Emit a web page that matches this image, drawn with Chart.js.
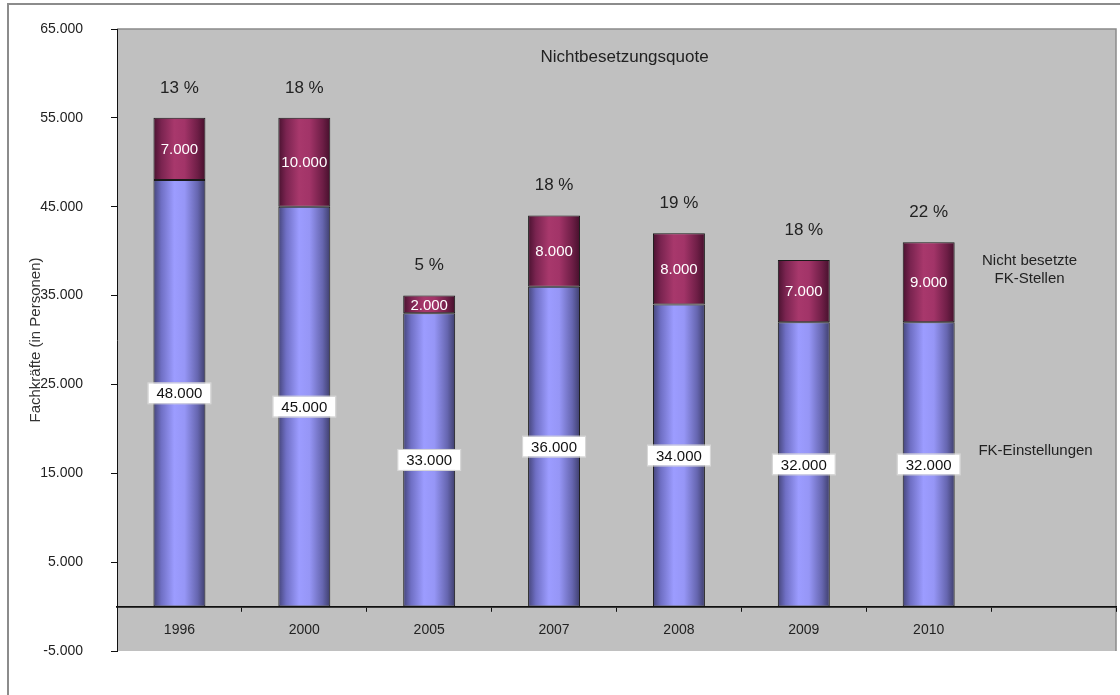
<!DOCTYPE html>
<html>
<head>
<meta charset="utf-8">
<script src="https://cdn.jsdelivr.net/npm/chart.js@4/dist/chart.umd.min.js"></script>
<style>
  html, body { margin: 0; padding: 0; background: #fff; }
  #wrap { width: 1120px; height: 695px; }
</style>
</head>
<body>
<div id="wrap"><canvas id="chart" width="1120" height="695"></canvas></div>
<script>
// data
const years = ['1996', '2000', '2005', '2007', '2008', '2009', '2010', ''];
const einstellungen = [48000, 45000, 33000, 36000, 34000, 32000, 32000];   // FK-Einstellungen
const offeneStellen = [7000, 10000, 2000, 8000, 8000, 7000, 9000];         // Nicht besetzte FK-Stellen
const quote = [13, 18, 5, 18, 19, 18, 22];                                 // Nichtbesetzungsquote in %
const yMin = -5000, yMax = 65000, yStep = 10000;

const FONT = "'Liberation Sans', Arial, sans-serif";
const BAR_PCT = 0.416;

// 48000 -> "48.000"
function fmt(v) {
  const s = Math.abs(v).toString().replace(/\B(?=(\d{3})+(?!\d))/g, '.');
  return (v < 0 ? '-' : '') + s;
}

// cylinder look: horizontal gradient per bar
function barFill(stops) {
  return (c) => {
    const chart = c.chart;
    if (!chart.chartArea || c.type !== 'data') return stops[2][1];
    const xs = chart.scales.x;
    const cx = xs.getPixelForValue(c.dataIndex);
    const hw = xs.width / years.length * BAR_PCT / 2;
    const g = chart.ctx.createLinearGradient(cx - hw, 0, cx + hw, 0);
    stops.forEach(s => g.addColorStop(s[0], s[1]));
    return g;
  };
}

const blueStops = [[0, '#45457a'], [0.15, '#6f6fc4'], [0.4, '#9c9cff'], [0.6, '#9696f6'], [0.85, '#6666b0'], [1, '#3e3e6c']];
const redStops = [[0, '#4a1230'], [0.15, '#7a2450'], [0.4, '#a8386c'], [0.6, '#a23468'], [0.85, '#6e1e46'], [1, '#45102c']];

// page frame + grey plot area
const backdrop = {
  id: 'backdrop',
  beforeDraw(chart) {
    const { ctx, chartArea: a, width, height } = chart;
    ctx.save();
    ctx.fillStyle = '#fff';
    ctx.fillRect(0, 0, width, height);
    ctx.strokeStyle = '#8c8c8c';
    ctx.lineWidth = 2;
    ctx.beginPath();
    ctx.moveTo(8, height);
    ctx.lineTo(8, 4);
    ctx.lineTo(width, 4);
    ctx.stroke();
    ctx.fillStyle = '#c0c0c0';
    ctx.fillRect(a.left, a.top, a.right - a.left, a.bottom - a.top);
    ctx.strokeStyle = '#8a8a8a';
    ctx.lineWidth = 1.5;
    ctx.beginPath();
    ctx.moveTo(a.left, a.top);
    ctx.lineTo(a.right, a.top);
    ctx.lineTo(a.right, a.bottom);
    ctx.stroke();
    ctx.restore();
  }
};

// value labels, percentages, title and the right-hand captions
const labels = {
  id: 'labels',
  afterDatasetsDraw(chart) {
    const { ctx, chartArea: a } = chart;
    const xs = chart.scales.x;
    const m0 = chart.getDatasetMeta(0);
    const m1 = chart.getDatasetMeta(1);
    ctx.save();
    ctx.textAlign = 'center';
    ctx.textBaseline = 'middle';

    m0.data.forEach((bar, i) => {
      const cy = (bar.y + bar.base) / 2;
      ctx.fillStyle = '#fff';
      ctx.fillRect(bar.x - 31, cy - 10, 62, 20);
      ctx.strokeStyle = '#d8d8d8';
      ctx.lineWidth = 1;
      ctx.strokeRect(bar.x - 31.5, cy - 10.5, 63, 21);
      ctx.fillStyle = '#111';
      ctx.font = '15px ' + FONT;
      ctx.fillText(fmt(einstellungen[i]), bar.x, cy + 1);
    });

    m1.data.forEach((bar, i) => {
      const cy = (bar.y + bar.base) / 2;
      ctx.fillStyle = '#fff';
      ctx.font = '15px ' + FONT;
      ctx.fillText(fmt(offeneStellen[i]), bar.x, cy + 1);
      ctx.fillStyle = '#222';
      ctx.font = '17px ' + FONT;
      ctx.fillText(quote[i] + ' %', bar.x, bar.y - 30);
    });

    ctx.fillStyle = '#222';
    ctx.font = '17px ' + FONT;
    ctx.fillText('Nichtbesetzungsquote', (a.left + a.right) / 2 + 8, a.top + 28);

    const last = m0.data.length - 1;
    const lx = xs.getPixelForValue(years.length - 1) - 18;
    const r = m1.data[last], b = m0.data[last];
    ctx.font = '15px ' + FONT;
    const ry = (r.y + r.base) / 2 - 12;
    ctx.fillText('Nicht besetzte', lx - 6, ry - 9);
    ctx.fillText('FK-Stellen', lx - 6, ry + 9);
    ctx.fillText('FK-Einstellungen', lx, (b.y + b.base) / 2 - 14);
    ctx.restore();
  }
};

new Chart(document.getElementById('chart'), {
  type: 'bar',
  data: {
    labels: years,
    datasets: [
      {
        label: 'FK-Einstellungen',
        data: einstellungen,
        backgroundColor: barFill(blueStops),
        borderColor: '#1a1a1a',
        borderWidth: 1,
        borderSkipped: false
      },
      {
        label: 'Nicht besetzte FK-Stellen',
        data: offeneStellen,
        backgroundColor: barFill(redStops),
        borderColor: '#1a1a1a',
        borderWidth: 1,
        borderSkipped: false
      }
    ]
  },
  options: {
    responsive: false,
    devicePixelRatio: 1,
    animation: false,
    barPercentage: BAR_PCT,
    categoryPercentage: 1,
    layout: { padding: { left: 27, top: 29, right: 4, bottom: 44 } },
    plugins: {
      legend: { display: false },
      tooltip: { enabled: false }
    },
    scales: {
      x: {
        stacked: true,
        position: { y: 0 },
        offset: true,
        grid: { drawOnChartArea: false, offset: true, tickLength: 4, color: '#111' },
        border: { color: '#111', width: 1.8 },
        ticks: { color: '#222', padding: 11, font: { family: FONT, size: 14 } }
      },
      y: {
        stacked: true,
        min: yMin,
        max: yMax,
        grid: { drawOnChartArea: false, tickLength: 6, color: '#111' },
        border: { color: '#111', width: 1 },
        ticks: {
          stepSize: yStep,
          padding: 28,
          color: '#222',
          font: { family: FONT, size: 14 },
          callback: v => fmt(v)
        },
        title: {
          display: true,
          text: 'Fachkräfte (in Personen)',
          color: '#333',
          padding: 0,
          font: { family: FONT, size: 15 }
        },
        afterFit: s => { s.width = 90; s.paddingTop = 0; s.paddingBottom = 0; }
      }
    }
  },
  plugins: [backdrop, labels]
});
</script>
</body>
</html>
